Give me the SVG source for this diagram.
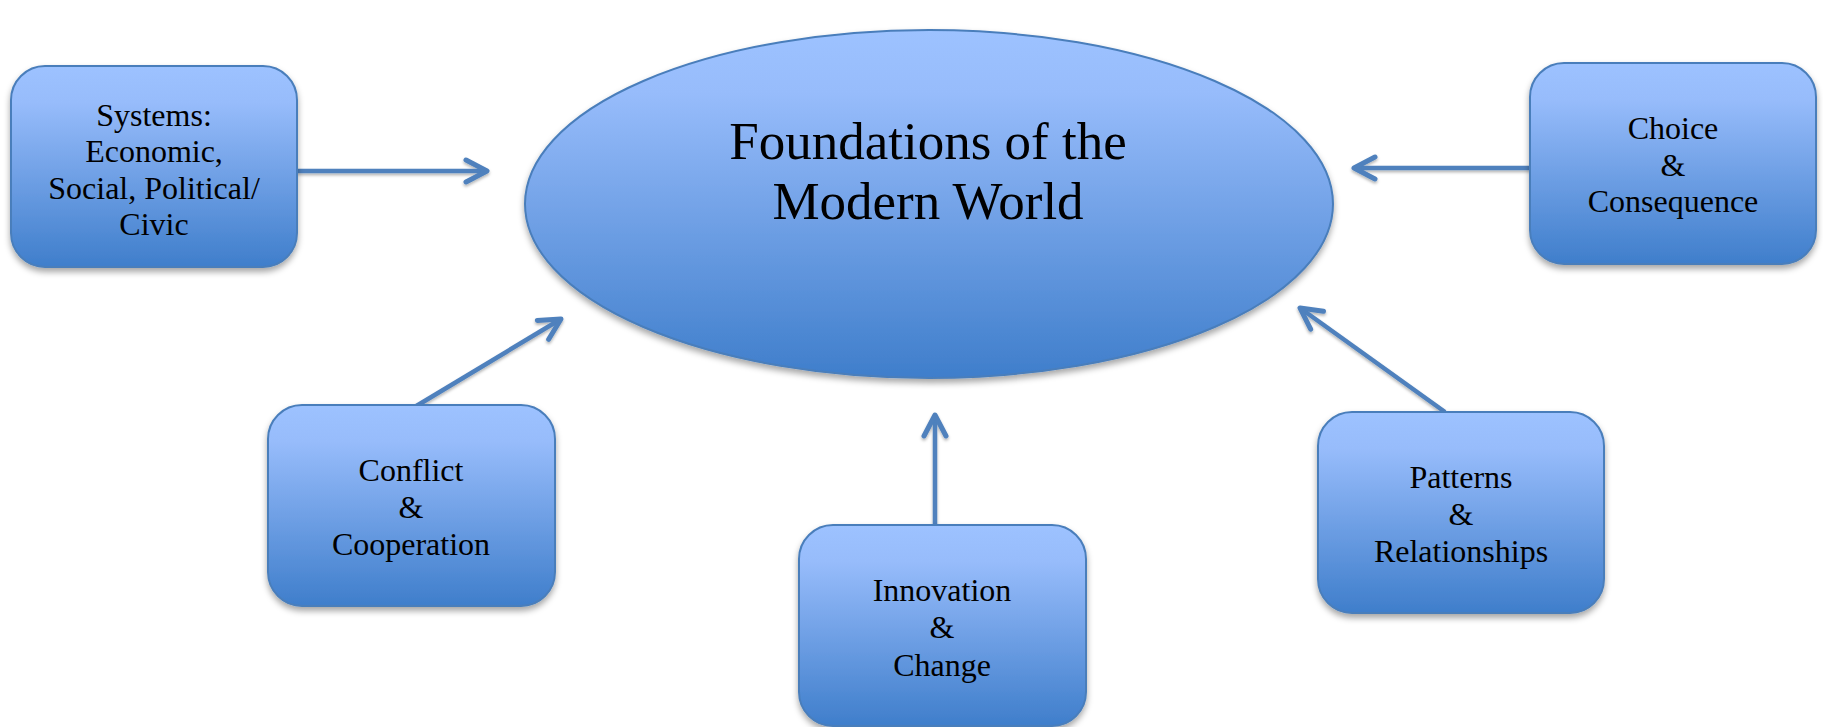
<svg xmlns="http://www.w3.org/2000/svg" width="1823" height="727" viewBox="0 0 1823 727">
<defs>
<linearGradient id="blueGrad" x1="0" y1="0" x2="0" y2="1">
<stop offset="0" stop-color="#9DC2FF"/>
<stop offset="0.18" stop-color="#97BCFB"/>
<stop offset="1" stop-color="#3F7ECB"/>
</linearGradient>
<filter id="shadow" x="-10%" y="-10%" width="120%" height="130%">
<feDropShadow dx="0" dy="4" stdDeviation="3" flood-color="#000" flood-opacity="0.35"/>
</filter>
<filter id="lineShadow" filterUnits="userSpaceOnUse" x="0" y="0" width="1823" height="727">
<feDropShadow dx="0" dy="2" stdDeviation="1.5" flood-color="#000" flood-opacity="0.3"/>
</filter>
<marker id="arrow" markerUnits="userSpaceOnUse" markerWidth="40" markerHeight="40" viewBox="-30 -20 40 40" refX="0" refY="0" orient="auto">
<path d="M -21 -11 L 0 0 L -21 11" fill="none" stroke="#4F81BD" stroke-width="5" stroke-linecap="round" stroke-linejoin="round"/>
</marker>
<style>
.box { fill: url(#blueGrad); stroke: #4A7EBB; stroke-width: 2; filter: url(#shadow); }
.lbl { font-family: "Liberation Serif", "Times New Roman", serif; font-size: 32px; fill: #000; text-anchor: middle; }
.title { font-family: "Liberation Serif", "Times New Roman", serif; font-size: 53px; fill: #000; text-anchor: middle; }
.conn { stroke: #4F81BD; stroke-width: 4.5; fill: none; marker-end: url(#arrow); }
</style>
</defs>
<rect width="1823" height="727" fill="#FFFFFF"/>
<g id="connectors" filter="url(#lineShadow)">
<line class="conn" x1="297" y1="171" x2="487" y2="171"/>
<line class="conn" x1="1531" y1="168" x2="1354" y2="168"/>
<line class="conn" x1="413" y1="408" x2="561" y2="319"/>
<line class="conn" x1="935" y1="525" x2="935" y2="415"/>
<line class="conn" x1="1445" y1="412" x2="1300" y2="308"/>
</g>
<g id="center">
<ellipse class="box" cx="929" cy="204" rx="404" ry="174"/>
<text class="title" x="928" y="159">Foundations of the</text>
<text class="title" x="928" y="219">Modern World</text>
</g>
<g id="systems">
<rect class="box" x="11" y="66" width="286" height="201" rx="34" ry="34"/>
<text class="lbl" x="154" y="126">Systems:</text>
<text class="lbl" x="154" y="162">Economic,</text>
<text class="lbl" x="154" y="199">Social, Political/</text>
<text class="lbl" x="154" y="235">Civic</text>
</g>
<g id="choice">
<rect class="box" x="1530" y="63" width="286" height="201" rx="34" ry="34"/>
<text class="lbl" x="1673" y="139">Choice</text>
<text class="lbl" x="1673" y="176">&amp;</text>
<text class="lbl" x="1673" y="212">Consequence</text>
</g>
<g id="conflict">
<rect class="box" x="268" y="405" width="287" height="201" rx="34" ry="34"/>
<text class="lbl" x="411" y="481">Conflict</text>
<text class="lbl" x="411" y="518">&amp;</text>
<text class="lbl" x="411" y="555">Cooperation</text>
</g>
<g id="innovation">
<rect class="box" x="799" y="525" width="287" height="201" rx="34" ry="34"/>
<text class="lbl" x="942" y="601">Innovation</text>
<text class="lbl" x="942" y="638">&amp;</text>
<text class="lbl" x="942" y="676">Change</text>
</g>
<g id="patterns">
<rect class="box" x="1318" y="412" width="286" height="201" rx="34" ry="34"/>
<text class="lbl" x="1461" y="488">Patterns</text>
<text class="lbl" x="1461" y="525">&amp;</text>
<text class="lbl" x="1461" y="562">Relationships</text>
</g>
</svg>
